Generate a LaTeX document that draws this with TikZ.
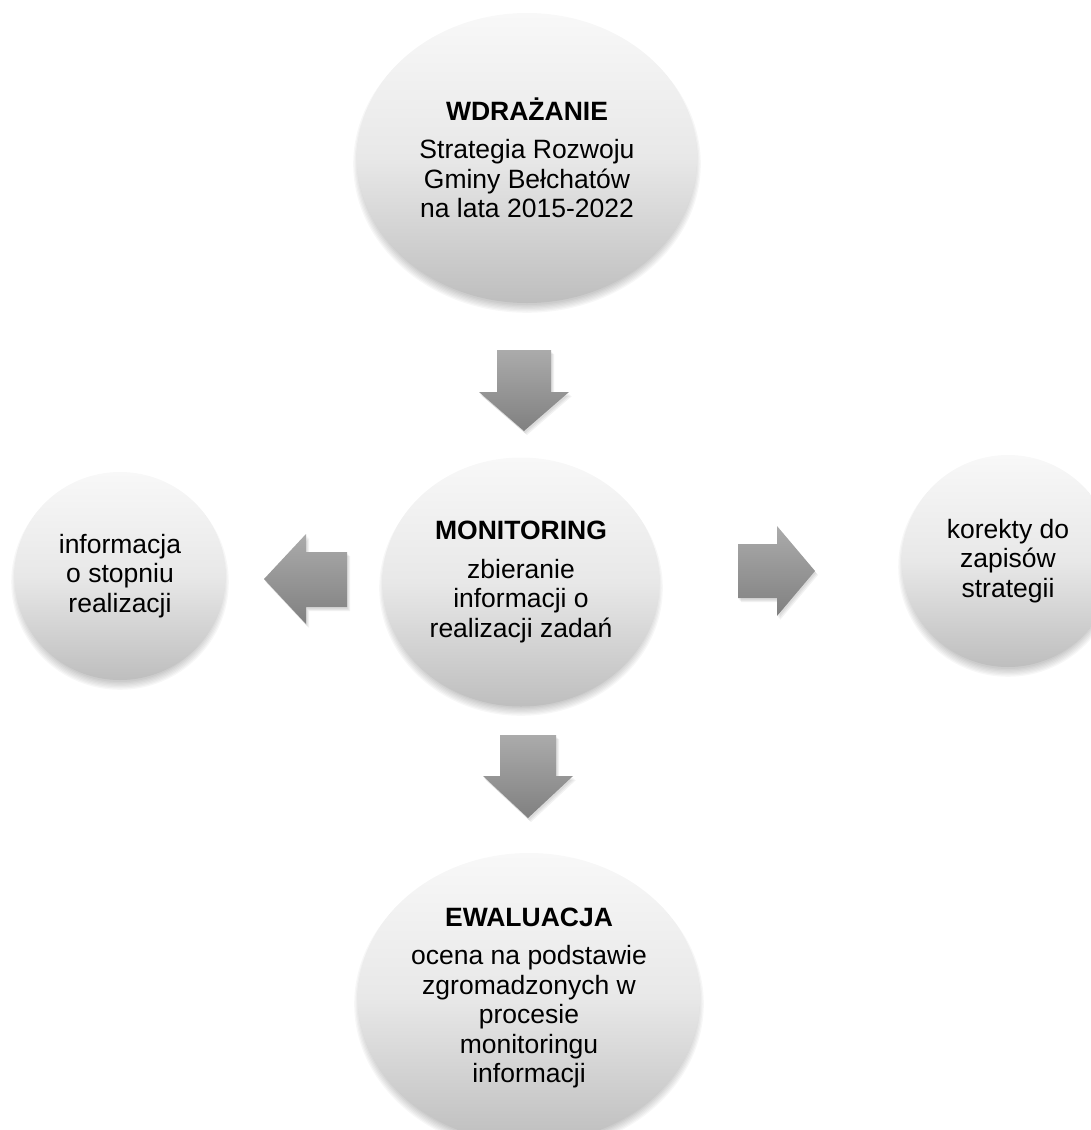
\documentclass[tikz,border=0pt]{standalone}
\usepackage{fontspec}
\setmainfont{Liberation Sans}
\usetikzlibrary{shapes.geometric}
\definecolor{bubtop}{HTML}{F8F8F8}
\definecolor{bubmid}{HTML}{E8E8E8}
\definecolor{bubbot}{HTML}{BEBEBE}
\definecolor{arrtop}{HTML}{ABABAB}
\definecolor{arrbot}{HTML}{808080}
\newcommand\bshadow[4]{%
  \foreach \k in {0,...,6}{\fill[black,opacity=0.03] (#1,#2+6) ellipse ({#3-4+\k*1.3} and {#4-4+\k*1.3});}}
\newcommand\arrshadow[1]{%
  \foreach \k in {1,2,3}{\fill[black,opacity=0.05,shift={(\k,\k+1)}] #1;}}
\begin{document}
\begin{tikzpicture}[x=1pt,y=-1pt,
  bubble/.style={ellipse, inner sep=0pt, align=center, text=black, draw=none,
    top color=bubtop, bottom color=bubbot, middle color=bubmid,
    font=\fontsize{26.5}{29.5}\selectfont},
  barrow/.style={top color=arrtop, bottom color=arrbot, draw=none}]
\useasboundingbox (0,0) rectangle (1091,1130);
\clip (0,0) rectangle (1091,1130);
% shadows of bubbles
\bshadow{527}{158}{170}{145}
\bshadow{521}{582}{138}{124}
\bshadow{120}{576}{105}{104}
\bshadow{1008}{561}{106}{106}
\bshadow{529}{998}{171}{145}
% bubbles
\node[bubble, minimum width=340, minimum height=290] (impl) at (527,158)
  {\textbf{WDRAŻANIE}\\[9pt]Strategia Rozwoju\\Gminy Bełchatów\\na lata 2015-2022};
\node[bubble, minimum width=277, minimum height=249] (mon) at (521,582)
  {\textbf{MONITORING}\\[9pt]zbieranie\\informacji o\\realizacji zadań};
\node[bubble, minimum width=211, minimum height=208] (info) at (120,576)
  {informacja\\o stopniu\\realizacji};
\node[bubble, minimum width=212, minimum height=212] (kor) at (1008,561)
  {korekty do\\zapisów\\strategii};
\node[bubble, minimum width=342, minimum height=290] (ewa) at (529,998)
  {\textbf{EWALUACJA}\\[9pt]ocena na podstawie\\zgromadzonych w\\procesie\\monitoringu\\informacji};
% block arrows (with soft shadows)
\def\aone{(497,350) -- (551,350) -- (551,392) -- (569,392) -- (524,431) -- (479,392) -- (497,392) -- cycle}
\def\atwo{(500,735) -- (556,735) -- (556,776) -- (573,776) -- (528,818) -- (483,776) -- (500,776) -- cycle}
\def\athree{(347,552) -- (347,607) -- (306,607) -- (306,624) -- (264,579) -- (306,534) -- (306,552) -- cycle}
\def\afour{(738,544) -- (777,544) -- (777,526) -- (815,571) -- (777,616) -- (777,598) -- (738,598) -- cycle}
\arrshadow{\aone}
\arrshadow{\atwo}
\arrshadow{\athree}
\arrshadow{\afour}
\path[barrow] \aone;
\path[barrow] \atwo;
\path[barrow] \athree;
\path[barrow] \afour;
\end{tikzpicture}
\end{document}
